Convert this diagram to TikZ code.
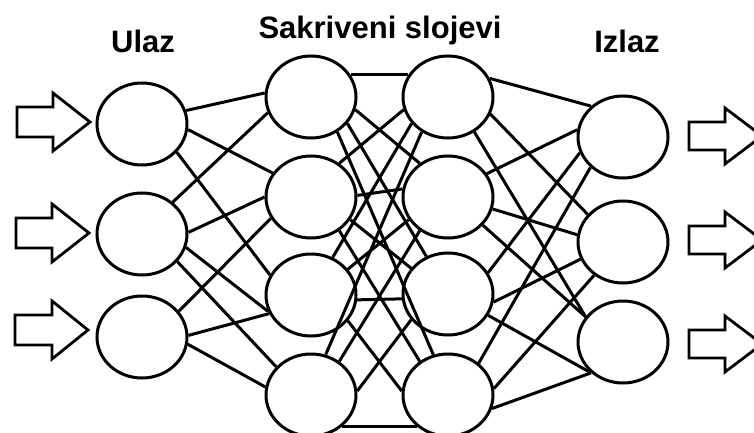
\documentclass[tikz,border=0pt]{standalone}
\usepackage{fontspec}
\setmainfont{Liberation Sans}
\usetikzlibrary{shapes.geometric}

\begin{document}
\begin{tikzpicture}[x=1pt, y=-1pt,
  neuron/.style={ellipse, draw, line width=3pt, minimum width=90pt, minimum height=82pt, inner sep=0pt},
  link/.style={line width=3pt},
  block/.style={draw, line width=2.8pt, fill=white, line join=miter},
  layertitle/.style={anchor=base, font=\bfseries\fontsize{31}{37}\selectfont}]
  \clip (0,0) rectangle (754,433);

  % layer titles
  \node[layertitle] (ulaz) at (143,53) {Ulaz};
  \node[layertitle] (skriveni) at (380,39) {Sakriveni slojevi};
  \node[layertitle] (izlaz) at (627,53) {Izlaz};

  % input layer
  \node[neuron] (in1) at (142,124) {};
  \node[neuron] (in2) at (142,234) {};
  \node[neuron] (in3) at (142,337) {};

  % hidden layers
  \node[neuron] (ha1) at (311,97) {};
  \node[neuron] (ha2) at (311,197) {};
  \node[neuron] (ha3) at (311,295) {};
  \node[neuron] (ha4) at (311,395) {};
  \node[neuron] (hb1) at (448,97) {};
  \node[neuron] (hb2) at (448,197) {};
  \node[neuron] (hb3) at (448,294) {};
  \node[neuron] (hb4) at (448,395) {};

  % output layer
  \node[neuron] (out1) at (623,137) {};
  \node[neuron] (out2) at (623,242) {};
  \node[neuron] (out3) at (623,342) {};

  % arrows in and out
  \draw[block, shift={(0,122)}] (17,-15) -- (53,-15) -- (53,-29) -- (90,0) -- (53,29) -- (53,15) -- (17,15) -- cycle;
  \draw[block, shift={(0,233)}] (16,-15) -- (52,-15) -- (52,-29) -- (89,0) -- (52,29) -- (52,15) -- (16,15) -- cycle;
  \draw[block, shift={(0,330)}] (15,-15) -- (52,-15) -- (52,-29) -- (88,0) -- (52,29) -- (52,15) -- (15,15) -- cycle;
  \draw[block, shift={(0,136)}] (689,-14) -- (725,-14) -- (725,-28) -- (762,0) -- (725,28) -- (725,14) -- (689,14) -- cycle;
  \draw[block, shift={(0,240)}] (689,-14) -- (725,-14) -- (725,-28) -- (762,0) -- (725,28) -- (725,14) -- (689,14) -- cycle;
  \draw[block, shift={(0,344)}] (689,-14) -- (725,-14) -- (725,-28) -- (762,0) -- (725,28) -- (725,14) -- (689,14) -- cycle;

  % input to first hidden layer
  \draw[link] (in1.17) -- (ha1.175);
  \draw[link] (in1.353) -- (ha2.148);
  \draw[link] (in1.321) -- (ha3.154);
  \draw[link] (in2.46) -- (ha1.200);
  \draw[link] (in2.2) -- (ha2.180);
  \draw[link] (in2.343) -- (ha3.201);
  \draw[link] (in2.322) -- (ha4.141);
  \draw[link] (in3.35) -- (ha2.208);
  \draw[link] (in3.2) -- (ha3.204);
  \draw[link] (in3.351) -- (ha4.170);

  % first to second hidden layer
  \draw[link] (ha1.29) -- (hb1.151);
  \draw[link] (ha1.344) -- (hb2.130);
  \draw[link] (ha1.324) -- (hb3.120);
  \draw[link] (ha1.307) -- (hb4.110);
  \draw[link] (ha2.50) -- (hb1.196);
  \draw[link] (ha2.2) -- (hb2.170);
  \draw[link] (ha2.330) -- (hb3.145);
  \draw[link] (ha2.310) -- (hb4.130);
  \draw[link] (ha3.60) -- (hb1.216);
  \draw[link] (ha3.35) -- (hb2.210);
  \draw[link] (ha3.354) -- (hb3.186);
  \draw[link] (ha3.325) -- (hb4.175);
  \draw[link] (ha4.70) -- (hb1.233);
  \draw[link] (ha4.50) -- (hb2.230);
  \draw[link] (ha4.5) -- (hb3.215);
  \draw[link] (ha4.315) -- (hb4.225);

  % second hidden layer to output
  \draw[link] (hb1.24) -- (out1.136);
  \draw[link] (hb1.338) -- (out2.142);
  \draw[link] (hb1.307) -- (out3.146);
  \draw[link] (hb2.31) -- (out1.171);
  \draw[link] (hb2.345) -- (out2.171);
  \draw[link] (hb2.321) -- (out3.146);
  \draw[link] (hb3.28) -- (out1.200);
  \draw[link] (hb3.350) -- (out2.202);
  \draw[link] (hb3.332) -- (out3.224);
  \draw[link] (hb4.46) -- (out1.223);
  \draw[link] (hb4.8) -- (out2.229);
  \draw[link] (hb4.343) -- (out3.224);
\end{tikzpicture}
\end{document}
